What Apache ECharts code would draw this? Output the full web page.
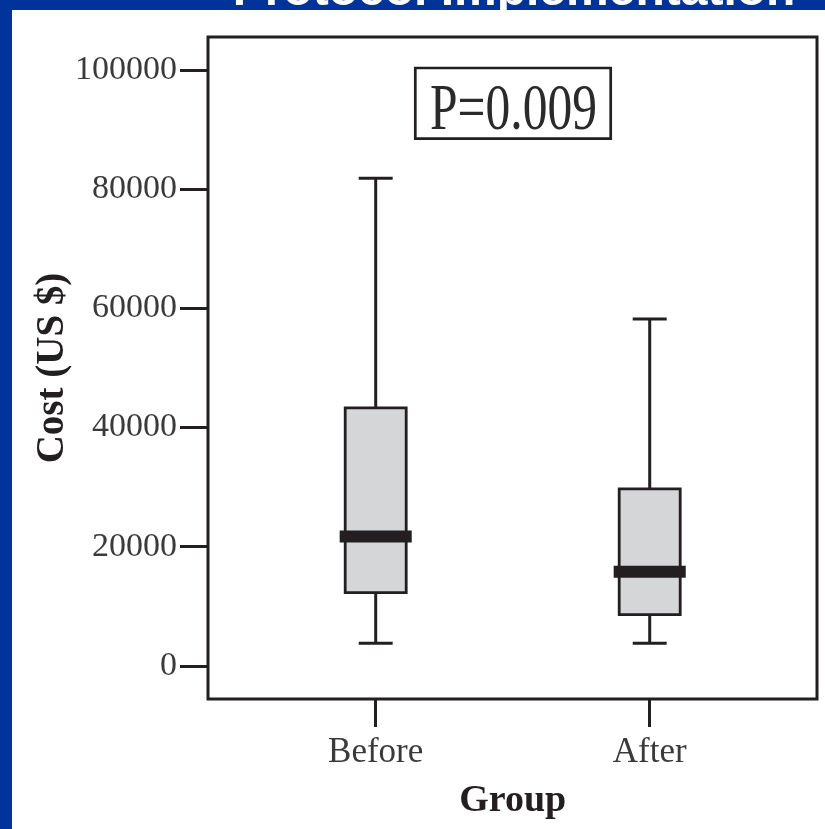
<!DOCTYPE html>
<html>
<head>
<meta charset="utf-8">
<script src="https://cdn.jsdelivr.net/npm/echarts@6/dist/echarts.min.js"></script>
<style>
  html, body { margin: 0; padding: 0; background: #003399; }
  #panel { position: absolute; left: 12px; top: 10px; width: 813px; height: 819px; background: #ffffff; }
  #chart { position: absolute; left: 0; top: 0; width: 825px; height: 829px; }
</style>
</head>
<body>
<div id="panel"></div>
<div id="chart"></div>
<script>
// ---- data ----
const categories = ['Before', 'After'];
const lowWhisker = [3800, 3800];
const q1Values = [12300, 8600];
const medianValues = [21700, 15800];
const q3Values = [43300, 29700];
const highWhisker = [81800, 58200];
const yTicks = [0, 20000, 40000, 60000, 80000, 100000];
const pLabel = 'P=0.009';
const headerText = 'Protocol Implementation';

const boxData = categories.map((c, i) => [i, lowWhisker[i], q1Values[i], medianValues[i], q3Values[i], highWhisker[i]]);

const ink = '#231f20';
const serif = 'Liberation Serif';

function renderBox(params, api) {
  const x = api.value(0);
  const pLow = api.coord([x, api.value(1)]);
  const pQ1 = api.coord([x, api.value(2)]);
  const pMed = api.coord([x, api.value(3)]);
  const pQ3 = api.coord([x, api.value(4)]);
  const pHigh = api.coord([x, api.value(5)]);
  const band = api.size([1, 0])[0];
  const boxW = band * 0.2226;
  const capW = band * 0.124;
  const medW = band * 0.263;
  const cx = pMed[0];
  const lineStyle = { stroke: ink, lineWidth: 3, fill: null };
  return {
    type: 'group',
    children: [
      { type: 'line', shape: { x1: cx, y1: pHigh[1], x2: cx, y2: pQ3[1] }, style: lineStyle },
      { type: 'line', shape: { x1: cx, y1: pQ1[1], x2: cx, y2: pLow[1] }, style: lineStyle },
      { type: 'line', shape: { x1: cx - capW / 2, y1: pHigh[1], x2: cx + capW / 2, y2: pHigh[1] }, style: lineStyle },
      { type: 'line', shape: { x1: cx - capW / 2, y1: pLow[1], x2: cx + capW / 2, y2: pLow[1] }, style: lineStyle },
      { type: 'rect', shape: { x: cx - boxW / 2, y: pQ3[1], width: boxW, height: pQ1[1] - pQ3[1] },
        style: { fill: '#d5d6d8', stroke: ink, lineWidth: 2.8 } },
      { type: 'line', shape: { x1: cx - medW / 2, y1: pMed[1], x2: cx + medW / 2, y2: pMed[1] },
        style: { stroke: ink, lineWidth: 12 } }
    ]
  };
}

const chart = echarts.init(document.getElementById('chart'), null, { renderer: 'canvas' });
chart.setOption({
  animation: false,
  backgroundColor: 'transparent',
  grid: [
    { left: 238.7, right: 38.3, top: 37, bottom: 130, show: false },
    { left: 208, right: 8, top: 37, bottom: 130, show: true, borderColor: ink, borderWidth: 3, backgroundColor: 'transparent' }
  ],
  xAxis: [
    {
      type: 'category', gridIndex: 0, data: categories, boundaryGap: true, position: 'bottom',
      axisLine: { show: false, onZero: false },
      axisTick: { show: true, alignWithLabel: true, length: 28, lineStyle: { color: ink, width: 3 } },
      axisLabel: { margin: 36, fontFamily: serif, fontSize: 35, color: '#3a3a3a' },
      splitLine: { show: false },
      name: 'Group', nameLocation: 'middle', nameGap: 83, nameMoveOverlap: false,
      nameTextStyle: { fontFamily: serif, fontWeight: 'bold', fontSize: 38, color: ink }
    },
    { type: 'value', gridIndex: 1, show: false }
  ],
  yAxis: [
    {
      type: 'value', gridIndex: 0, min: -5540, max: 105500, offset: 30.7,
      axisLine: { show: false, onZero: false },
      splitLine: { show: false },
      axisTick: { show: true, customValues: yTicks, length: 28, lineStyle: { color: ink, width: 3 } },
      axisLabel: { customValues: yTicks, margin: 31, fontFamily: serif, fontSize: 34, color: '#3a3a3a',
                   formatter: v => String(v) },
      name: 'Cost (US $)', nameLocation: 'middle', nameGap: 136, nameMoveOverlap: false,
      nameTextStyle: { fontFamily: serif, fontWeight: 'bold', fontSize: 39, color: ink }
    },
    { type: 'value', gridIndex: 1, show: false }
  ],
  series: [
    {
      type: 'custom', name: 'Cost', xAxisIndex: 0, yAxisIndex: 0,
      renderItem: renderBox,
      encode: { x: 0, y: [1, 2, 3, 4, 5] },
      data: boxData
    }
  ],
  graphic: [
    {
      type: 'text', x: 514, y: -8,
      style: { text: headerText, fill: '#ffffff', font: 'bold 48px "Liberation Sans", Arial, sans-serif',
               textAlign: 'center', textVerticalAlign: 'middle' }
    },
    {
      type: 'rect', shape: { x: 415.3, y: 68, width: 195.4, height: 70.7 },
      style: { fill: '#ffffff', stroke: ink, lineWidth: 2.7 }
    },
    {
      type: 'text', x: 513.5, y: 112, scaleX: 0.75,
      style: { text: pLabel, fill: '#2a2a2a', font: '66px "Liberation Serif", serif',
               textAlign: 'center', textVerticalAlign: 'middle' }
    }
  ]
});
</script>
</body>
</html>
